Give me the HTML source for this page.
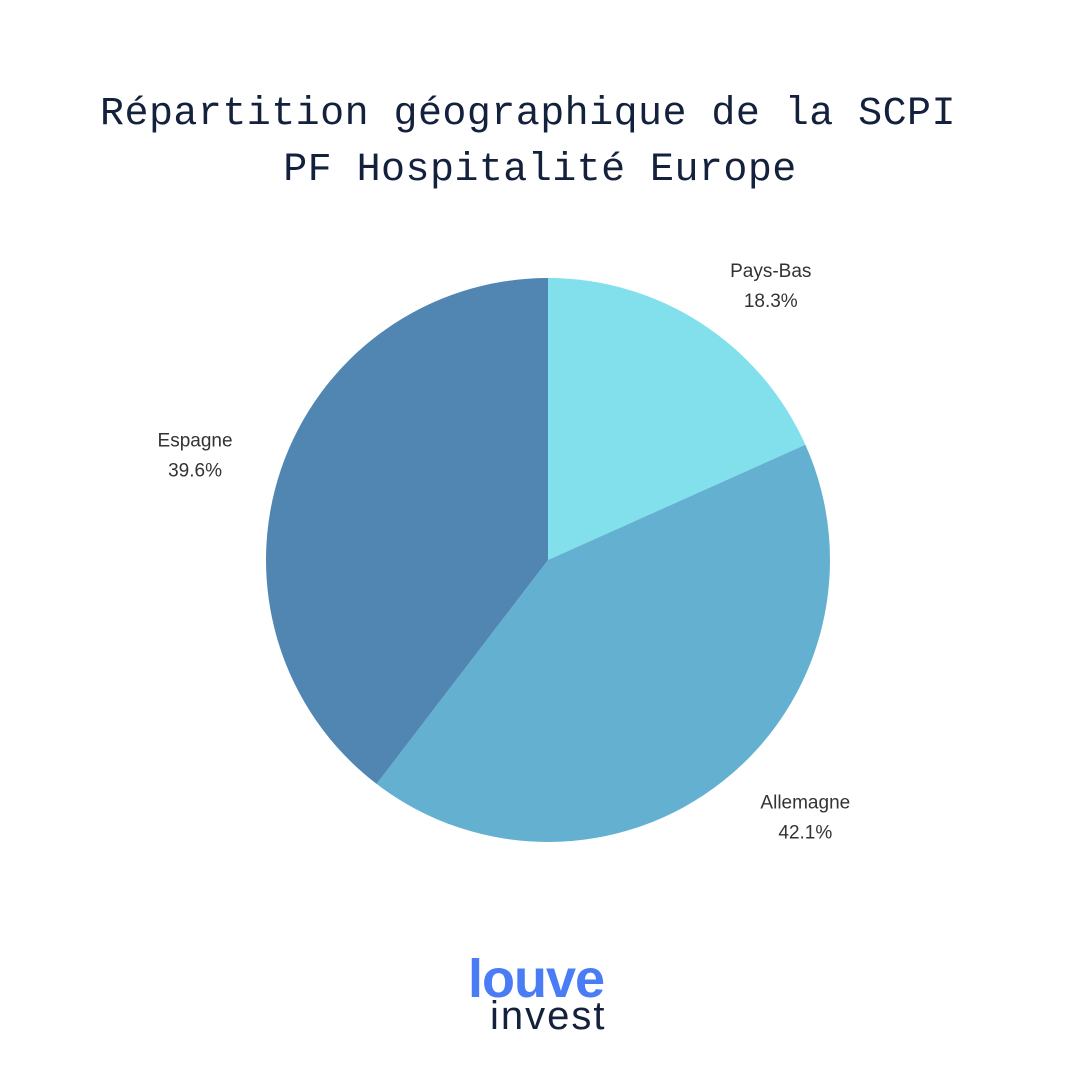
<!DOCTYPE html>
<html><head><meta charset="utf-8"><style>
body{margin:0;background:#fff;width:1080px;height:1080px;overflow:hidden;position:relative}
.title{position:absolute;left:0;width:1080px;text-align:center;font-family:"Liberation Mono",monospace;font-size:40px;letter-spacing:0.45px;color:#14213d}
.lbl{font-family:"Liberation Sans",sans-serif;font-size:19px;fill:#333}
</style></head><body>
<div class="title" style="top:92px;left:-12px">Répartition géographique de la SCPI</div>
<div class="title" style="top:148px">PF Hospitalité Europe</div>
<svg id="pie" width="1080" height="1080" style="position:absolute;left:0;top:0"></svg>
<div style="position:absolute;left:468px;top:948px;font-family:'Liberation Sans',sans-serif;font-size:54px;font-weight:bold;color:#4a7cf5;letter-spacing:-1px">louve</div>
<div style="position:absolute;left:490px;top:994px;font-family:'Liberation Sans',sans-serif;font-size:40px;color:#14213d;letter-spacing:2px">invest</div>
<script>
const categories=["Pays-Bas","Allemagne","Espagne"];
const values=[18.3,42.1,39.6];
const colors=["#82dfec","#63b0d1","#5185b2"];
const cx=548,cy=560,r=282,lr=360;
const nudgeX=[27,34,-12];
const nudgeY=[23,-30,6];
const svg=document.getElementById('pie');
const NS="http://www.w3.org/2000/svg";
const total=values.reduce((a,b)=>a+b,0);
function pt(a,rad){return [cx+rad*Math.sin(a),cy-rad*Math.cos(a)];}
let acc=0;
values.forEach((v,i)=>{
  const a0=acc/total*2*Math.PI; acc+=v; const a1=acc/total*2*Math.PI;
  const [x0,y0]=pt(a0,r),[x1,y1]=pt(a1,r);
  const p=document.createElementNS(NS,'path');
  p.setAttribute('d',`M${cx},${cy}L${x0},${y0}A${r},${r} 0 ${a1-a0>Math.PI?1:0} 1 ${x1},${y1}Z`);
  p.setAttribute('fill',colors[i]);
  
  
  svg.appendChild(p);
  let [lx,ly]=pt((a0+a1)/2,lr);
  lx+=nudgeX[i]; ly+=nudgeY[i];
  const t=document.createElementNS(NS,'text');
  t.setAttribute('class','lbl');t.setAttribute('text-anchor','middle');
  t.setAttribute('x',lx);t.setAttribute('y',ly-4);
  
  
  t.textContent=categories[i];
  const t2=document.createElementNS(NS,'text');
  t2.setAttribute('class','lbl');t2.setAttribute('text-anchor','middle');
  t2.setAttribute('x',lx);t2.setAttribute('y',ly+26);
  
  
  t2.textContent=v.toFixed(1)+'%';
  svg.appendChild(t);svg.appendChild(t2);
});
</script>
</body></html>
